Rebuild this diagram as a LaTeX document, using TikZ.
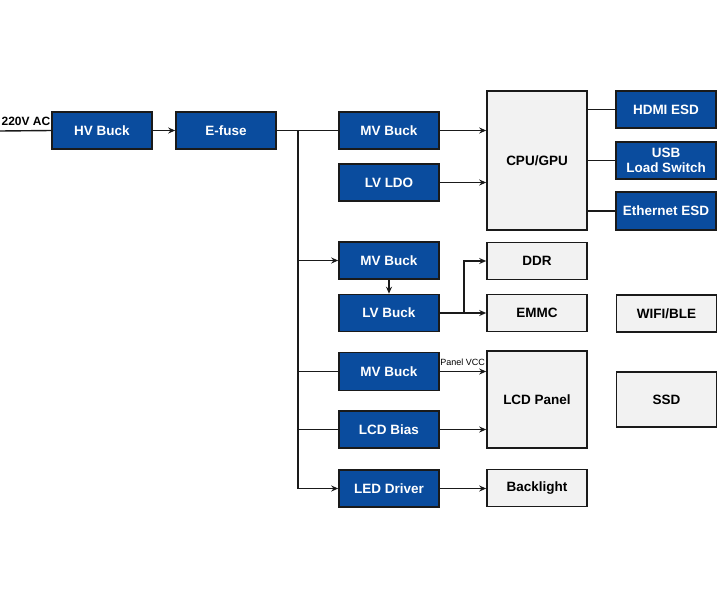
\documentclass[tikz,border=0pt]{standalone}
\usepackage{fontspec}
\setmainfont{Liberation Sans}
\usetikzlibrary{arrows.meta}
\definecolor{boxblue}{HTML}{0A4C9E}
\definecolor{boxgray}{HTML}{F2F2F2}
\definecolor{edge}{HTML}{1A1A1A}
\begin{document}
\begin{tikzpicture}[x=1pt,y=-1pt,
  base/.style={draw=edge, line width=1.6pt, inner sep=0pt, minimum width=100pt,
    minimum height=37pt, align=center, font=\fontsize{13.5}{15}\selectfont\bfseries},
  bluebox/.style={base, fill=boxblue, text=white},
  graybox/.style={base, fill=boxgray, text=black},
  conn/.style={draw=edge, line width=1.4pt},
  arr/.style={conn, -{Stealth[length=7pt,width=6pt]}}]
\useasboundingbox (0,0) rectangle (720,600);
% blue boxes
\node[bluebox] (hv)   at (102,130.5) {HV Buck};
\node[bluebox] (ef)   at (226,130.5) {E-fuse};
\node[bluebox] (mv1)  at (389,130.5) {MV Buck};
\node[bluebox] (ldo)  at (389,182.5) {LV LDO};
\node[bluebox] (mv2)  at (389,260.5) {MV Buck};
\node[bluebox] (lvb)  at (389,313) {LV Buck};
\node[bluebox, minimum height=38pt] (mv3) at (389,371.5) {MV Buck};
\node[bluebox] (bias) at (389,429.5) {LCD Bias};
\node[bluebox] (led)  at (389,488.5) {LED Driver};
\node[bluebox] (hdmi) at (666,109.5) {HDMI ESD};
\node[bluebox] (usb)  at (666,160.5) {USB\\Load Switch};
\node[bluebox, minimum height=38pt] (eth) at (666,211) {Ethernet ESD};
% gray boxes
\node[graybox, minimum height=139pt] (cpu) at (537,160.5) {CPU/GPU};
\node[graybox] (ddr)  at (537,261) {DDR};
\node[graybox] (emmc) at (537,313) {EMMC};
\node[graybox, minimum height=97pt] (lcd) at (537,399.5) {LCD Panel};
\node[graybox] (back) at (537,488) {Backlight};
\node[graybox] (wifi) at (666.5,313.5) {WIFI/BLE};
\node[graybox, minimum height=55pt] (ssd) at (666.5,399.5) {SSD};
% input
\coordinate (in) at (0,131);
\draw[conn] (in) -- (hv.west);
\node[anchor=south east, inner sep=0pt, font=\fontsize{12}{13}\selectfont\bfseries] (acl) at (50.5,125.5) {220V AC};
\draw[arr] (hv.east) -- (ef.east -| ef.west);
% bus
\coordinate (bt) at (298,130.5);
\draw[conn] (ef.east) -- (mv1.west);
\draw[arr] (bt) |- (led.west);
\draw[arr] (mv2.west -| bt) -- (mv2.west);
\draw[conn] (mv3.west -| bt) -- (mv3.west);
\draw[conn] (bias.west -| bt) -- (bias.west);
% cpu
\draw[arr] (mv1.east) -- (mv1.east -| cpu.west);
\draw[arr] (ldo.east) -- (ldo.east -| cpu.west);
\draw[conn] (hdmi.west -| cpu.east) -- (hdmi.west);
\draw[conn] (usb.west -| cpu.east) -- (usb.west);
\draw[conn] (eth.west -| cpu.east) -- (eth.west);
% memory
\draw[arr] (mv2.south) -- (lvb.north);
\draw[arr] (lvb.east) -- (lvb.east -| emmc.west);
\coordinate (br) at (464,313);
\draw[arr] (br) |- (ddr.west);
% lcd
\draw[arr] (mv3.east) -- (mv3.east -| lcd.west)
  node[pos=1, anchor=south east, inner sep=0pt, yshift=5pt, xshift=-0.5pt, font=\fontsize{9}{10}\selectfont] (pv) {Panel VCC};
\draw[arr] (bias.east) -- (bias.east -| lcd.west);
\draw[arr] (led.east) -- (led.east -| back.west);
\end{tikzpicture}
\end{document}
